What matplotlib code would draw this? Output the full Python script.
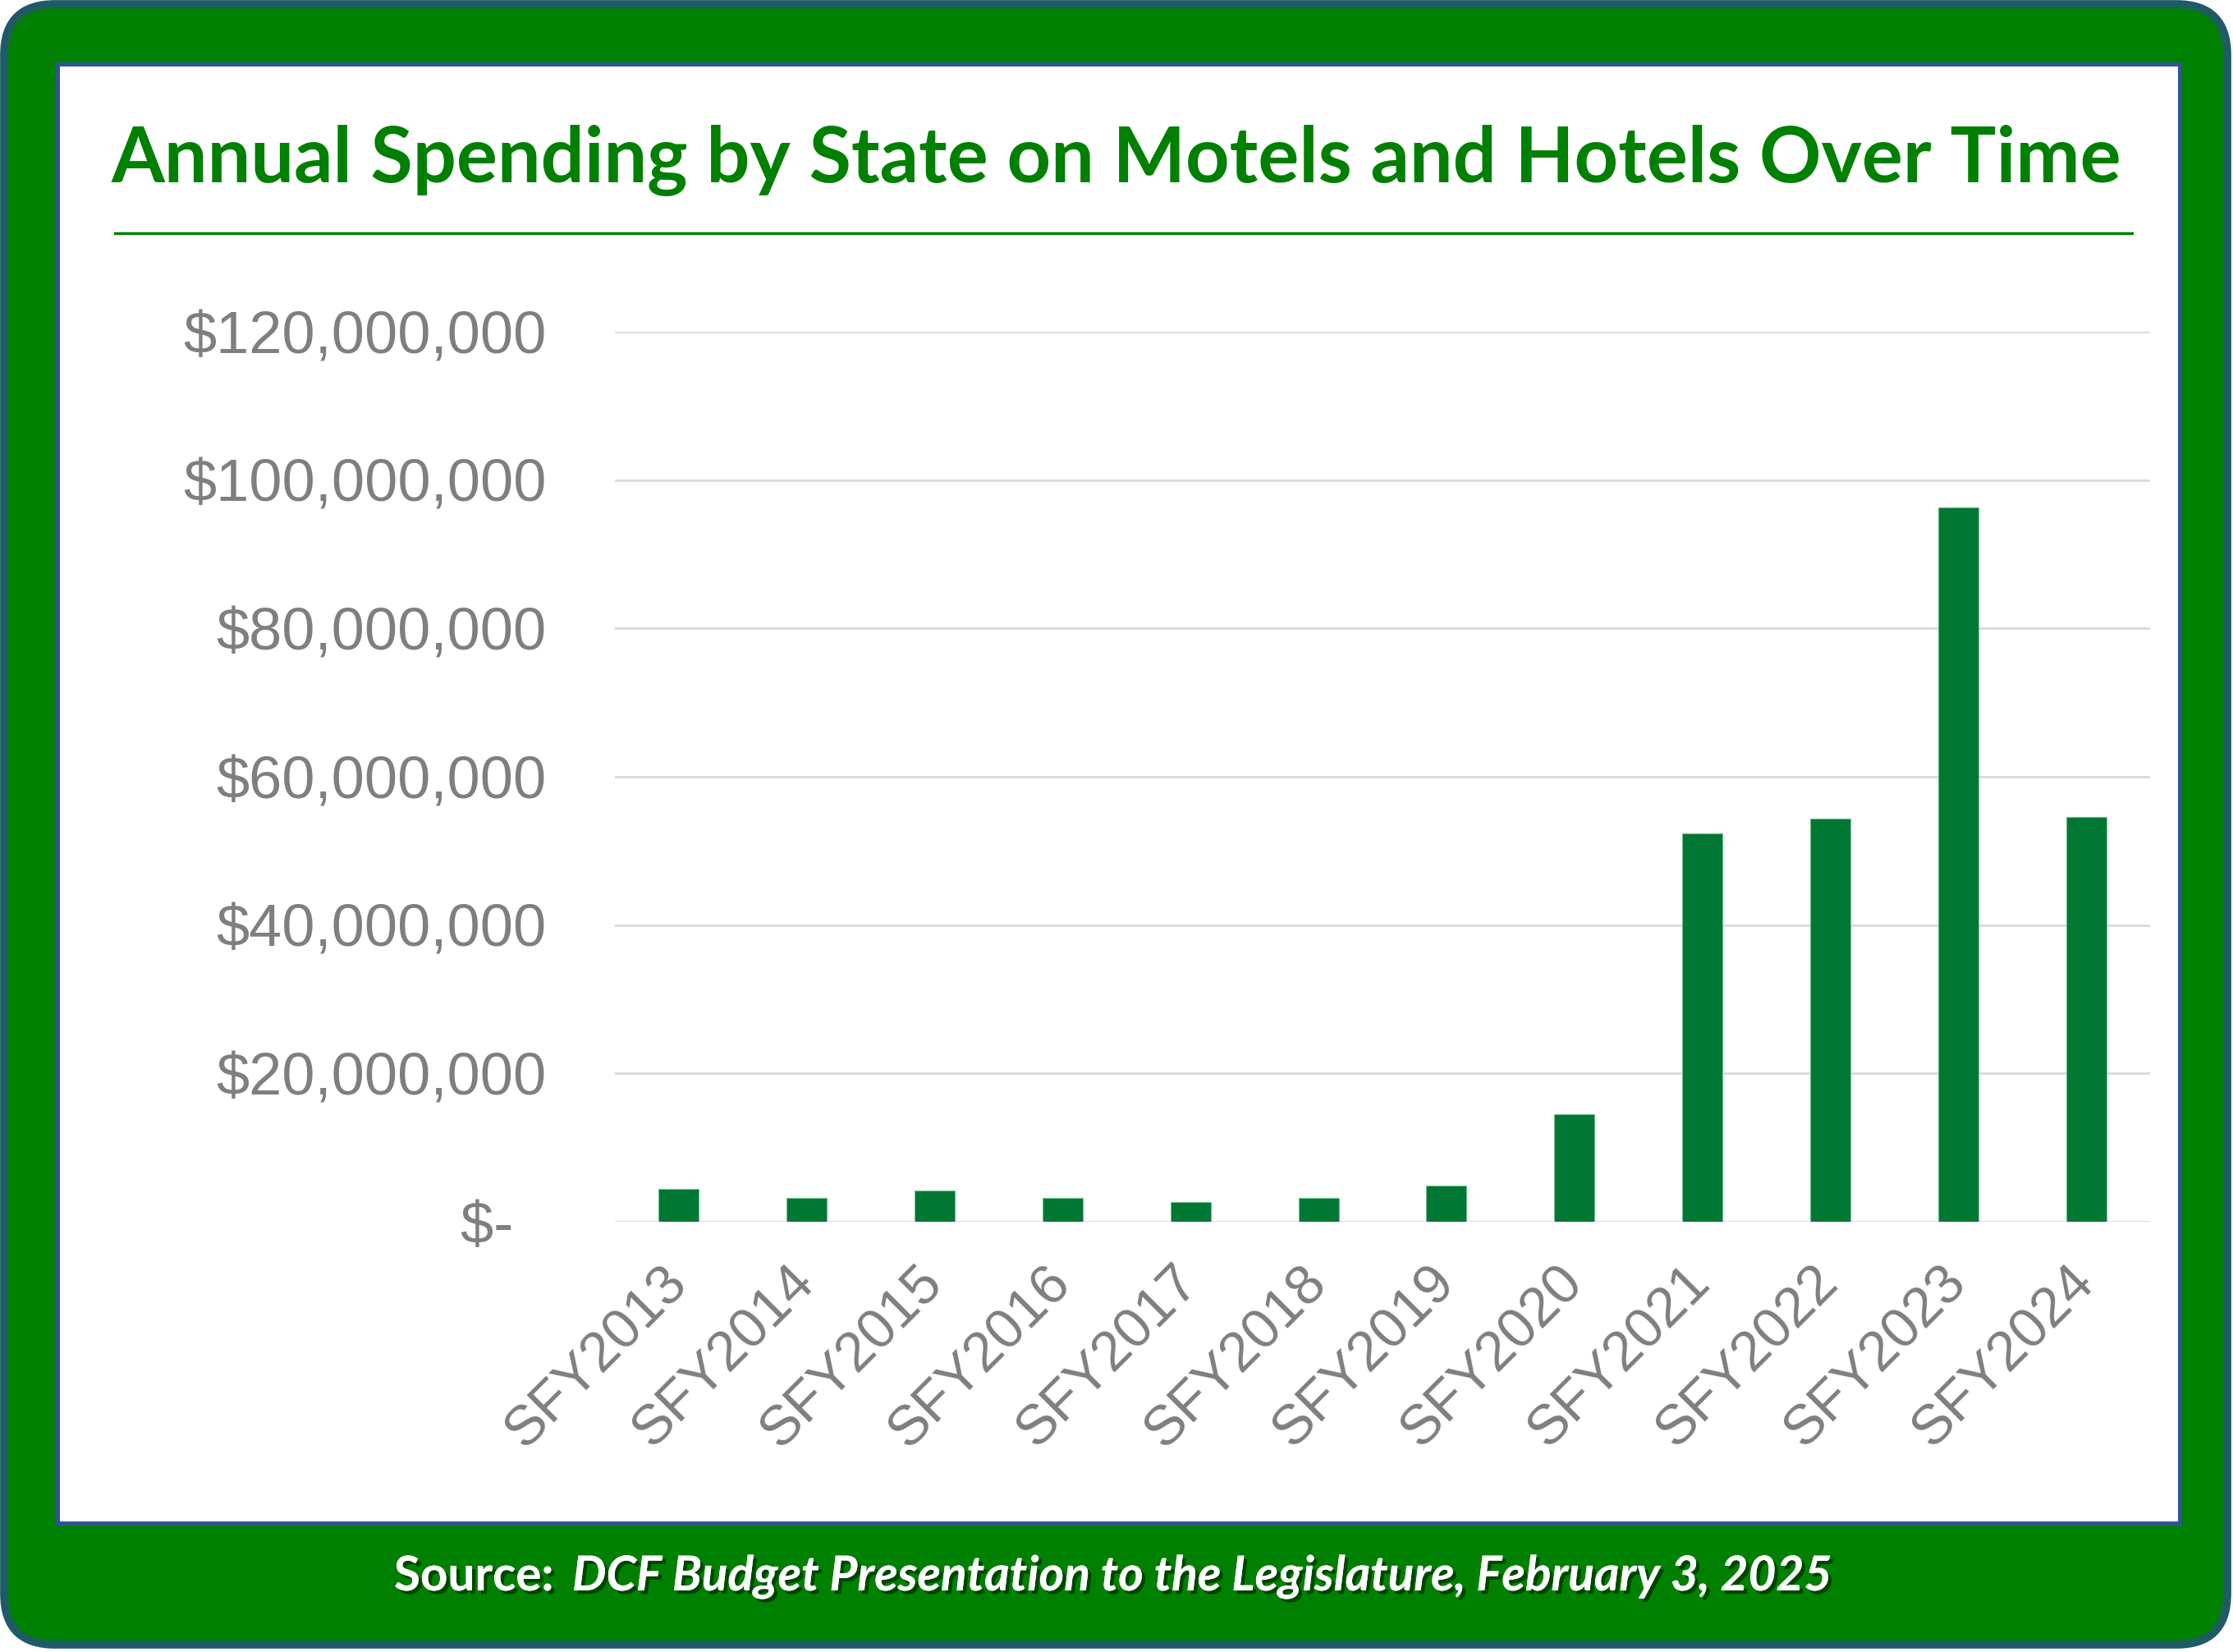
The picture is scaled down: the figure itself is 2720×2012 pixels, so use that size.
import matplotlib.pyplot as plt
import matplotlib.patheffects as pe
from matplotlib.patches import FancyBboxPatch, Rectangle
from matplotlib.ticker import FuncFormatter

years = ['SFY2013', 'SFY2014', 'SFY2015', 'SFY2016', 'SFY2017', 'SFY2018',
         'SFY2019', 'SFY2020', 'SFY2021', 'SFY2022', 'SFY2023', 'SFY2024']
spending = [4.4e6, 3.2e6, 4.2e6, 3.2e6, 2.7e6, 3.2e6,
            4.9e6, 14.5e6, 52.4e6, 54.3e6, 96.3e6, 54.6e6]
y_ticks = [0, 20e6, 40e6, 60e6, 80e6, 100e6, 120e6]

title = 'Annual Spending by State on Motels and Hotels Over Time'
source_lead = 'Source:'
source_ref = 'DCF Budget Presentation to the Legislature, February 3, 2025'

W, H = 2720, 2012
fig = plt.figure(figsize=(W / 100, H / 100), dpi=100)
fig.patch.set_facecolor('white')

# background frame drawn in pixel coordinates
bg = fig.add_axes([0, 0, 1, 1])
bg.set_xlim(0, W)
bg.set_ylim(H, 0)
bg.axis('off')

bg.add_patch(FancyBboxPatch((5, 5), W - 12, H - 14,
                            boxstyle='round,pad=0,rounding_size=62',
                            facecolor='#008000', edgecolor='#1F5B66', linewidth=7))
bg.add_patch(Rectangle((70, 78), 2655 - 70, 1855 - 78,
                       facecolor='white', edgecolor='#2F5597', linewidth=3.6))

bg.text(1360, 222, title, ha='center', va='baseline', fontsize=67.3,
        fontweight='bold', family='Lato', color='#008000')
bg.plot([140, 2597], [284, 284], color='#008000', linewidth=2.5)

shadow = [pe.withSimplePatchShadow(offset=(3, -3), shadow_rgbFace='black', alpha=0.45),
          pe.Normal()]
bg.text(480, 1937, source_lead, ha='left', va='baseline', fontsize=42,
        fontweight='bold', family='Lato', color='white', path_effects=shadow)
bg.text(697, 1937, source_ref, ha='left', va='baseline', fontsize=42.2,
        fontweight='bold', style='italic', family='Lato', color='white',
        path_effects=shadow)

# chart
ax = fig.add_axes([749 / W, 1 - 1488 / H, (2619 - 749) / W, (1488 - 404) / H])
ax.set_facecolor('none')
x = range(len(years))
ax.bar(x, spending, width=0.314, color='#017734', edgecolor='#6fbf8f',
       linewidth=0.8, zorder=3)
ax.set_xlim(-0.5, len(years) - 0.5)
ax.set_ylim(0, 120e6)
ax.set_yticks(y_ticks)


def money(v, pos):
    if v == 0:
        return '$-  '
    return '${:,.0f}'.format(v)


ax.yaxis.set_major_formatter(FuncFormatter(money))
ax.grid(axis='y', color='#D9D9D9', linewidth=2, zorder=0)
for s in ax.spines.values():
    s.set_visible(False)
ax.tick_params(axis='y', length=0, labelsize=52, labelcolor='#7F7F7F', pad=60)
ax.tick_params(axis='x', length=0, labelsize=49, labelcolor='#7F7F7F', pad=46)
ax.set_xticks(list(x))
ax.set_xticklabels(years, rotation=45, ha='right', va='center',
                   rotation_mode='anchor', family='Liberation Sans')
for lab in ax.get_yticklabels():
    lab.set_family('Liberation Sans')

fig.savefig('out.png', dpi=100, facecolor='white')
